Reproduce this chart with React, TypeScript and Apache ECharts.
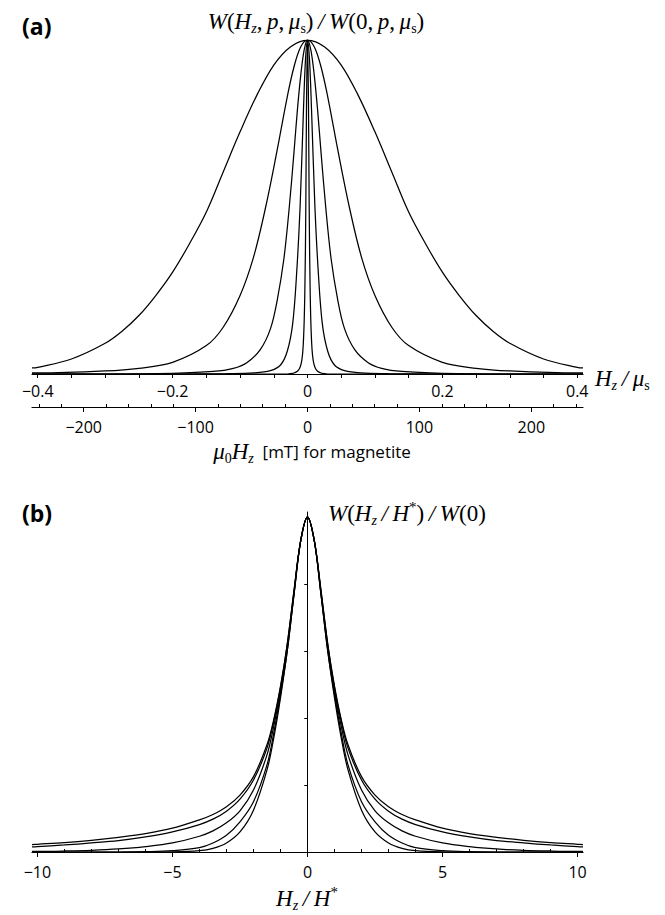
import React, { useEffect, useRef } from "react";
import * as echarts from "echarts";

// ---- Panel (a): W(Hz, p, μs)/W(0, p, μs) vs Hz/μs (half-curves, Hz ≥ 0; each curve is even in Hz)
const a1X = [0, 0.025, 0.05, 0.075, 0.1, 0.125, 0.15, 0.175, 0.2, 0.225, 0.25, 0.275, 0.3, 0.35, 0.4, 0.4085];
const a1Y = [1, 0.98, 0.925, 0.835, 0.725, 0.605, 0.485, 0.39, 0.305, 0.235, 0.175, 0.128, 0.092, 0.045, 0.02, 0.018];

const a2X = [0, 0.01, 0.02, 0.03, 0.045, 0.062, 0.08, 0.1, 0.125, 0.15, 0.2, 0.25, 0.3, 0.4, 0.4085];
const a2Y = [1, 0.98, 0.92, 0.83, 0.67, 0.5, 0.35, 0.235, 0.14, 0.085, 0.035, 0.017, 0.009, 0.003, 0.003];

const a3X = [0, 0.005, 0.01, 0.015, 0.02, 0.027, 0.035, 0.045, 0.055, 0.07, 0.09, 0.11, 0.14, 0.2, 0.3, 0.4085];
const a3Y = [1, 0.97, 0.895, 0.79, 0.665, 0.5, 0.345, 0.22, 0.135, 0.073, 0.034, 0.017, 0.0075, 0.002, 0, 0];

const a4X = [0, 0.003, 0.006, 0.011, 0.016, 0.022, 0.03, 0.04, 0.055, 0.08, 0.12, 0.2, 0.4085];
const a4Y = [1, 0.94, 0.79, 0.5, 0.305, 0.15, 0.068, 0.027, 0.01, 0.003, 0.001, 0, 0];

const a5X = [0, 0.0015, 0.0025, 0.004, 0.006, 0.009, 0.015, 0.03, 0.4085];
const a5Y = [1, 0.8, 0.5, 0.24, 0.1, 0.035, 0.008, 0, 0];

// ---- Panel (b): W(Hz/H*)/W(0) vs Hz/H* (half-curves)
const bX = [0, 0.25, 0.5, 0.75, 1, 1.25, 1.5, 2, 2.5, 3, 3.5, 4, 5, 6, 7, 8, 9, 10, 10.2];
const b1Y = [1, 0.93, 0.78, 0.62, 0.495, 0.395, 0.32, 0.225, 0.17, 0.135, 0.112, 0.096, 0.071, 0.055, 0.044, 0.035, 0.028, 0.023, 0.022];
const b2Y = [1, 0.93, 0.78, 0.62, 0.49, 0.39, 0.31, 0.215, 0.158, 0.122, 0.098, 0.082, 0.06, 0.045, 0.034, 0.027, 0.021, 0.016, 0.015];
const b3Y = [1, 0.93, 0.77, 0.61, 0.48, 0.375, 0.29, 0.185, 0.123, 0.087, 0.063, 0.047, 0.027, 0.016, 0.009, 0.005, 0.003, 0.002, 0.002];
const b4Y = [1, 0.93, 0.77, 0.6, 0.47, 0.355, 0.26, 0.15, 0.09, 0.05, 0.027, 0.013, 0.004, 0.001, 0, 0, 0, 0, 0];
const b5Y = [1, 0.93, 0.77, 0.6, 0.46, 0.34, 0.245, 0.125, 0.06, 0.027, 0.011, 0.004, 0.0005, 0, 0, 0, 0, 0, 0];

// ---- Axis ranges and ticks
const rangeA = 0.4085; // Hz/μs axis half-span
const msMagnetite = 602.7; // μ0·Ms of magnetite, mT
const ticksA = [-0.4, -0.35, -0.3, -0.25, -0.2, -0.15, -0.1, -0.05, 0, 0.05, 0.1, 0.15, 0.2, 0.25, 0.3, 0.35, 0.4];
const labelsA = [-0.4, -0.2, 0, 0.2, 0.4];
const minorMT = [-240, -220, -180, -160, -140, -120, -80, -60, -40, -20, 20, 40, 60, 80, 120, 140, 160, 180, 220, 240];
const labelsMT = [-200, -100, 0, 100, 200];
const rangeB = 10.2;
const minorB = [-9, -8, -7, -6, -4, -3, -2, -1, 1, 2, 3, 4, 6, 7, 8, 9];
const labelsB = [-10, -5, 0, 5, 10];
const ticksBY = [0.2, 0.4, 0.6, 0.8];

const SANS = '"Open Sans", "Noto Sans", sans-serif';
const SERIF = '"Liberation Serif", "DejaVu Serif", serif';

const mirror = (xs: number[], ys: number[]) => {
  const pts: number[][] = [];
  for (let i = xs.length - 1; i > 0; i--) pts.push([-xs[i], ys[i]]);
  for (let i = 0; i < xs.length; i++) pts.push([xs[i], ys[i]]);
  return pts;
};

const fmt = (v: number) => (v < 0 ? "\u2212" + String(Math.abs(v)) : String(v));

const rich = {
  i: { fontFamily: SERIF, fontStyle: "italic", fontSize: 23, lineHeight: 28, color: "#000" },
  r: { fontFamily: SERIF, fontSize: 23, lineHeight: 28, color: "#000" },
  sub: { fontFamily: SERIF, fontStyle: "italic", fontSize: 14, lineHeight: 13, verticalAlign: "bottom", color: "#000" },
  subr: { fontFamily: SERIF, fontSize: 14, lineHeight: 13, verticalAlign: "bottom", color: "#000" },
  sup: { fontFamily: SERIF, fontSize: 15, lineHeight: 13, verticalAlign: "top", color: "#000" },
  sans: { fontFamily: SANS, fontSize: 17, lineHeight: 28, color: "#000" },
};

const lineSeries = (data: number[][], xi: number, yi: number) => ({
  type: "line",
  xAxisIndex: xi,
  yAxisIndex: yi,
  data,
  showSymbol: false,
  smooth: 0.35,
  clip: true,
  lineStyle: { color: "#000", width: 1.25 },
  silent: true,
});

const labelStyle = { fontFamily: SANS, fontSize: 16, color: "#000" };
const black = { color: "#000", width: 1.2 };

export default function App() {
  const ref = useRef<HTMLDivElement>(null);

  useEffect(() => {
    if (!ref.current) return;
    const chart = echarts.init(ref.current, undefined, { renderer: "svg" });
    chart.setOption({
      animation: false,
      backgroundColor: "#fff",
      grid: [
        { left: 32, top: 40, width: 551, height: 334 },
        { left: 32, top: 512, width: 551, height: 340 },
      ],
      xAxis: [
        // Hz/μs
        {
          type: "value", gridIndex: 0, min: -rangeA, max: rangeA, position: "bottom",
          axisLine: { show: true, onZero: false, lineStyle: black },
          axisTick: { show: true, customValues: ticksA, length: 4, lineStyle: { color: "#000", width: 1 } },
          axisLabel: { customValues: labelsA, formatter: fmt, margin: 9, ...labelStyle },
          splitLine: { show: false },
        },
        // μ0Hz in mT, minor ticks pointing up
        {
          type: "value", gridIndex: 0, min: -rangeA * msMagnetite, max: rangeA * msMagnetite, position: "bottom", offset: 33,
          axisLine: { show: true, onZero: false, lineStyle: black },
          axisTick: { show: true, inside: true, customValues: minorMT, length: 3, lineStyle: { color: "#000", width: 1 } },
          axisLabel: { show: false },
          splitLine: { show: false },
        },
        // μ0Hz in mT, major ticks and labels
        {
          type: "value", gridIndex: 0, min: -rangeA * msMagnetite, max: rangeA * msMagnetite, position: "bottom", offset: 33,
          axisLine: { show: false, onZero: false },
          axisTick: { show: true, customValues: labelsMT, length: 5, lineStyle: { color: "#000", width: 1 } },
          axisLabel: { customValues: labelsMT, formatter: fmt, margin: 12, ...labelStyle },
          splitLine: { show: false },
        },
        // Hz/H*, major ticks and labels
        {
          type: "value", gridIndex: 1, min: -rangeB, max: rangeB, position: "bottom",
          axisLine: { show: true, onZero: false, lineStyle: black },
          axisTick: { show: true, customValues: labelsB, length: 5, lineStyle: { color: "#000", width: 1 } },
          axisLabel: { customValues: labelsB, formatter: fmt, margin: 12, ...labelStyle },
          splitLine: { show: false },
        },
        // Hz/H*, minor ticks pointing up
        {
          type: "value", gridIndex: 1, min: -rangeB, max: rangeB, position: "bottom",
          axisLine: { show: false, onZero: false },
          axisTick: { show: true, inside: true, customValues: minorB, length: 3, lineStyle: { color: "#000", width: 1 } },
          axisLabel: { show: false },
          splitLine: { show: false },
        },
      ],
      yAxis: [
        { type: "value", gridIndex: 0, min: 0, max: 1, show: false },
        {
          type: "value", gridIndex: 1, min: 0, max: 1.015,
          axisLine: { show: true, onZero: true, lineStyle: { color: "#000", width: 1 } },
          axisTick: { show: true, customValues: ticksBY, length: 3, lineStyle: { color: "#000", width: 1 } },
          axisLabel: { show: false },
          splitLine: { show: false },
        },
        {
          type: "value", gridIndex: 1, min: 0, max: 1.015,
          axisLine: { show: false, onZero: true },
          axisTick: { show: true, inside: true, customValues: ticksBY, length: 3, lineStyle: { color: "#000", width: 1 } },
          axisLabel: { show: false },
          splitLine: { show: false },
        },
      ],
      series: [
        lineSeries(mirror(a1X, a1Y), 0, 0),
        lineSeries(mirror(a2X, a2Y), 0, 0),
        lineSeries(mirror(a3X, a3Y), 0, 0),
        lineSeries(mirror(a4X, a4Y), 0, 0),
        lineSeries(mirror(a5X, a5Y), 0, 0),
        lineSeries(mirror(bX, b1Y), 3, 1),
        lineSeries(mirror(bX, b2Y), 3, 1),
        lineSeries(mirror(bX, b3Y), 3, 1),
        lineSeries(mirror(bX, b4Y), 3, 1),
        lineSeries(mirror(bX, b5Y), 3, 1),
      ],
      graphic: [
        {
          type: "text", x: 22, y: 26,
          style: { text: "(a)", fontFamily: SANS, fontWeight: "bold", fontSize: 23, fill: "#000", verticalAlign: "middle" },
        },
        {
          type: "text", x: 316, y: 21,
          style: {
            text:
              "{i|W}{r|(}{i|H}{sub|z}{r|,\u2009}{i|p}{r|,\u2009}{i|\u03bc}{subr|s}{r|)\u2009}{i|/}{r|\u2009}{i|W}{r|(0,\u2009}{i|p}{r|,\u2009}{i|\u03bc}{subr|s}{r|)}",
            rich, align: "center", verticalAlign: "middle",
          },
        },
        {
          type: "text", x: 595, y: 378,
          style: { text: "{i|H}{sub|z}{i|\u2009/\u2009\u03bc}{subr|s}", rich, align: "left", verticalAlign: "middle" },
        },
        {
          type: "text", x: 312, y: 451,
          style: {
            text: "{i|\u03bc}{subr|0}{i|H}{sub|z}{sans|  [mT] for magnetite}",
            rich, align: "center", verticalAlign: "middle",
          },
        },
        {
          type: "text", x: 22, y: 513,
          style: { text: "(b)", fontFamily: SANS, fontWeight: "bold", fontSize: 23, fill: "#000", verticalAlign: "middle" },
        },
        {
          type: "text", x: 328, y: 513,
          style: {
            text: "{i|W}{r|(}{i|H}{sub|z}{i|\u2009/\u2009H}{sup|*}{r|)\u2009}{i|/}{r|\u2009}{i|W}{r|(0)}",
            rich, align: "left", verticalAlign: "middle",
          },
        },
        {
          type: "text", x: 307, y: 898,
          style: { text: "{i|H}{sub|z}{i|\u2009/\u2009H}{sup|*}", rich, align: "center", verticalAlign: "middle" },
        },
      ],
    });
    return () => chart.dispose();
  }, []);

  return (
    <div style={{ position: "absolute", left: 0, top: 0, width: 665, height: 915, background: "#fff" }}>
      <div ref={ref} style={{ width: 665, height: 915 }} />
    </div>
  );
}
